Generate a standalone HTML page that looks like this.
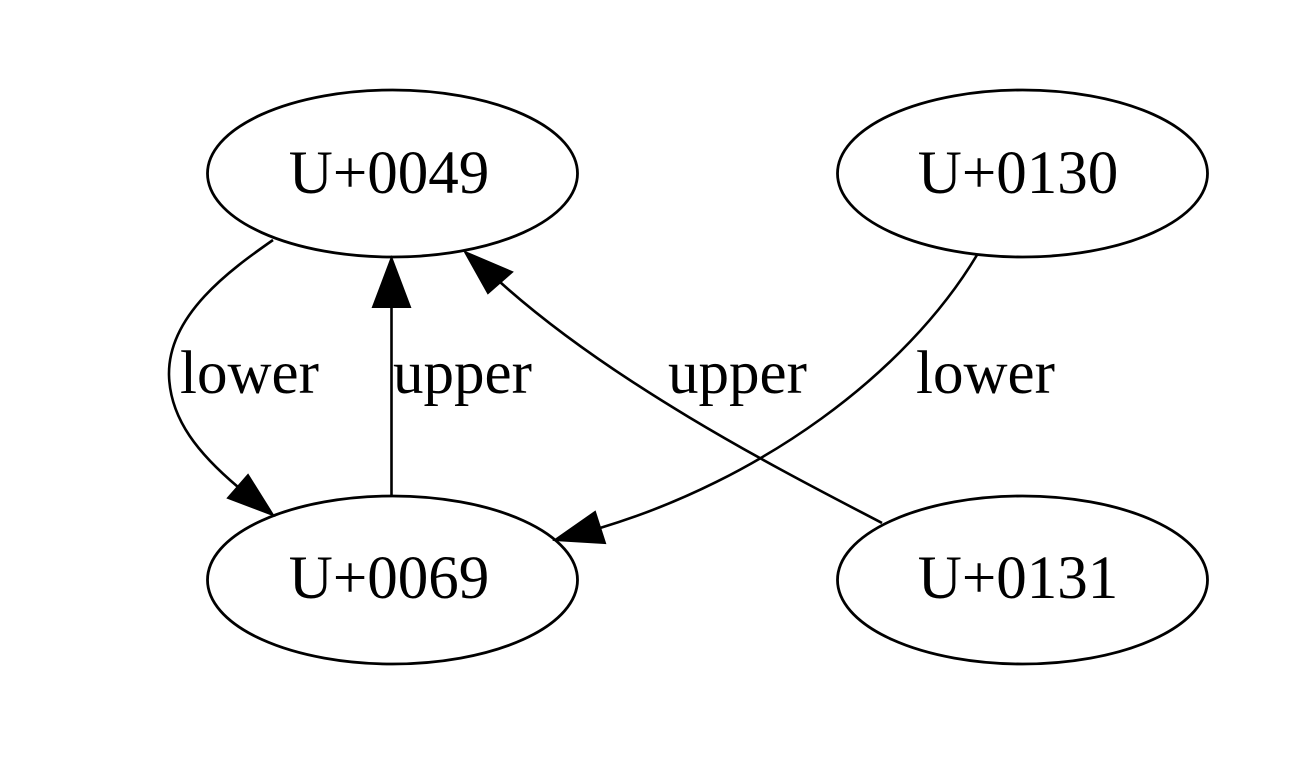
<!DOCTYPE html>
<html>
<head>
<meta charset="utf-8">
<style>
  html, body { margin: 0; padding: 0; background: #ffffff; }
  svg { display: block; }
  text { font-family: "Liberation Serif", "DejaVu Serif", serif; font-size: 61px; fill: #000; }
</style>
</head>
<body>
<svg width="1300" height="757" viewBox="0 0 1300 757" xmlns="http://www.w3.org/2000/svg">
  <rect x="0" y="0" width="1300" height="757" fill="#ffffff"/>

  <!-- Nodes -->
  <g fill="none" stroke="#000" stroke-width="2.8">
    <ellipse cx="392.5" cy="173.5" rx="185" ry="83.5"/>
    <ellipse cx="1022.5" cy="173.5" rx="185" ry="83.5"/>
    <ellipse cx="392.5" cy="580" rx="185" ry="84"/>
    <ellipse cx="1022.5" cy="580" rx="185" ry="84"/>
  </g>
  <text x="389" y="193" text-anchor="middle">U+0049</text>
  <text x="1018" y="193" text-anchor="middle">U+0130</text>
  <text x="389" y="598" text-anchor="middle">U+0069</text>
  <text x="1018" y="598" text-anchor="middle">U+0131</text>

  <!-- Edges -->
  <g fill="none" stroke="#000" stroke-width="2.6">
    <!-- lower: U+0049 -> U+0069 -->
    <path d="M273,240 C230,270 168,315 169,375 C170,420 200,455 238,487"/>
    <!-- upper: U+0069 -> U+0049 -->
    <path d="M391.5,497 L391.5,305"/>
    <!-- upper: U+0131 -> U+0049 -->
    <path d="M882,523 C800,480 620,390 500,282"/>
    <!-- lower: U+0130 -> U+0069 -->
    <path d="M977,255 C905,375 760,480 600,528"/>
  </g>

  <!-- Arrowheads -->
  <g fill="#000" stroke="#000" stroke-width="2">
    <polygon points="273,515 248,475 228,498"/>
    <polygon points="391.5,258 373,307 410,307"/>
    <polygon points="465,252 512,272 488,293"/>
    <polygon points="555,540 595,512 605,543"/>
  </g>

  <!-- Edge labels -->
  <text x="180" y="393">lower</text>
  <text x="393" y="393">upper</text>
  <text x="668" y="393">upper</text>
  <text x="916" y="393">lower</text>
</svg>
</body>
</html>
